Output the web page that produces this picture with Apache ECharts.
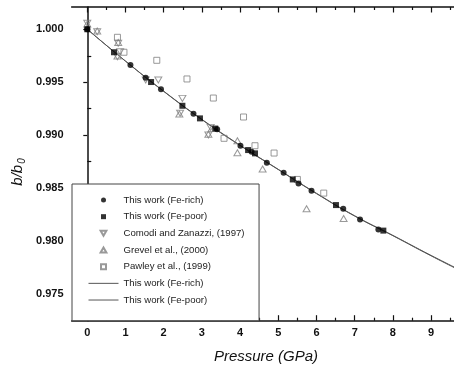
<!DOCTYPE html>
<html>
<head>
<meta charset="utf-8">
<script src="https://cdn.jsdelivr.net/npm/echarts@6/dist/echarts.min.js"></script>
<style>
  html, body { margin: 0; padding: 0; background: #fff; }
  #chart { width: 454px; height: 369px; }
</style>
</head>
<body>
<div id="chart"></div>
<script>
// Relative b-axis compression b/b0 versus pressure (GPa)

// This work, Fe-rich crystal: [pressure, b/b0]
const feRich = [
  [0.00, 1.00000], [1.13, 0.99663], [1.53, 0.99543], [1.93, 0.99433],
  [2.78, 0.99203], [3.40, 0.99056], [4.01, 0.98901], [4.30, 0.98844],
  [4.70, 0.98740], [5.14, 0.98646], [5.53, 0.98545], [5.87, 0.98476],
  [6.70, 0.98306], [7.14, 0.98205], [7.62, 0.98111]
];

// This work, Fe-poor crystal
const fePoor = [
  [0.00, 1.00000], [0.70, 0.99783], [1.67, 0.99502], [2.49, 0.99278],
  [2.95, 0.99159], [3.35, 0.99063], [4.21, 0.98860], [4.39, 0.98829],
  [5.38, 0.98583], [6.51, 0.98341], [7.75, 0.98100]
];

// Comodi and Zanazzi (1997)
const comodi = [
  [0.00, 1.00057], [0.26, 0.99977], [0.81, 0.99868], [0.79, 0.99741],
  [0.86, 0.99788], [1.53, 0.99521], [1.86, 0.99521], [2.49, 0.99348],
  [2.43, 0.99207], [3.23, 0.99074], [3.17, 0.99002]
];

// Grevel et al. (2000)
const grevel = [
  [0.00, 1.00050], [0.26, 0.99984], [0.81, 0.99875], [0.79, 0.99748],
  [2.41, 0.99200], [3.17, 0.99010], [3.26, 0.99065], [3.93, 0.98948],
  [3.93, 0.98834], [4.59, 0.98681], [5.74, 0.98307], [6.71, 0.98215]
];

// Pawley et al. (1999)
const pawley = [
  [0.79, 0.99924], [0.96, 0.99783], [1.82, 0.99707], [2.61, 0.99531],
  [3.30, 0.99351], [3.58, 0.98971], [4.09, 0.99172], [4.39, 0.98901],
  [4.89, 0.98832], [5.50, 0.98583], [6.19, 0.98454]
];

// Fitted equation-of-state curves
const fitRich = [
  [0, 1.00000], [1, 0.99699], [2, 0.99414], [3, 0.99147], [4, 0.98903],
  [5, 0.98676], [6, 0.98449], [7, 0.98237], [8, 0.98052], [9, 0.97862], [10, 0.97680]
];
const fitPoor = [
  [0, 1.00000], [1, 0.99700], [2, 0.99416], [3, 0.99150], [4, 0.98906],
  [5, 0.98678], [6, 0.98452], [7, 0.98240], [8, 0.98055], [9, 0.97866], [10, 0.97685]
];

// Axis ticks
const xMajor = [0, 1, 2, 3, 4, 5, 6, 7, 8, 9];
const xMinor = [0.5, 1.5, 2.5, 3.5, 4.5, 5.5, 6.5, 7.5, 8.5, 9.5];
const yMajor = [0.975, 0.980, 0.985, 0.990, 0.995, 1.000];
const yMinor = [0.9775, 0.9825, 0.9875, 0.9925, 0.9975];

const X_MIN = -0.41, X_MAX = 10;
const Y_MIN = 0.9725, Y_MAX = 1.0021;

const FONT = '"Liberation Sans", Arial, sans-serif';
const AXIS_COLOR = '#111';
const OPEN_COLOR = '#808080';
const FIT_COLOR = '#555';

function xAxisDef(position, ticks, len, withLabels, showLine) {
  return {
    type: 'value', position: position, min: X_MIN, max: X_MAX,
    axisLine: { show: showLine, lineStyle: { color: AXIS_COLOR, width: 1.5 } },
    axisTick: { show: true, inside: true, length: len, customValues: ticks,
                lineStyle: { color: AXIS_COLOR, width: 1.2 } },
    axisLabel: withLabels ? {
      show: true, customValues: ticks, margin: 7,
      fontFamily: FONT, fontWeight: 'bold', fontSize: 11, color: AXIS_COLOR,
      formatter: v => String(Math.round(v))
    } : { show: false },
    splitLine: { show: false }
  };
}

function yAxisDef(ticks, len, inside, withLabels, showLine) {
  return {
    type: 'value', position: 'left', min: Y_MIN, max: Y_MAX,
    axisLine: { show: showLine, lineStyle: { color: AXIS_COLOR, width: 1.5 } },
    axisTick: { show: true, inside: inside, length: len, customValues: ticks,
                lineStyle: { color: AXIS_COLOR, width: 1.2 } },
    axisLabel: withLabels ? {
      show: true, customValues: ticks, margin: 8,
      fontFamily: FONT, fontWeight: 'bold', fontSize: 11, color: AXIS_COLOR,
      formatter: v => v.toFixed(3)
    } : { show: false },
    splitLine: { show: false }
  };
}

// Symbol shapes (paths keep their aspect ratio inside legend icons)
const downTriangle = 'path://M0,0L10,0L5,8.66Z';
const upTriangle = 'path://M5,0L10,8.66L0,8.66Z';
const square = 'path://M0,0H10V10H0Z';
const lineIcon = 'path://M0,0H30V1H0Z';

const chart = echarts.init(document.getElementById('chart'), null, { renderer: 'canvas' });

chart.setOption({
  animation: false,
  backgroundColor: '#fff',
  grid: { left: 71.6, top: 7, width: 397.7, height: 313.7, outerBoundsMode: 'none', containLabel: false },
  xAxis: [
    xAxisDef('bottom', xMajor, 5.5, true, true),
    xAxisDef('bottom', xMinor, 3, false, false),
    xAxisDef('top', xMajor, 5.5, false, true),
    xAxisDef('top', xMinor, 3, false, false)
  ],
  yAxis: [
    yAxisDef(yMajor, 4, false, true, true),
    yAxisDef(yMinor, 4, true, false, false)
  ],
  legend: {
    orient: 'vertical', left: 72, top: 184,
    padding: [10, 14.5, 14.7, 16.5],
    borderColor: '#444', borderWidth: 1, backgroundColor: '#fff',
    itemWidth: 30, itemHeight: 5, itemGap: 4.67,
    textStyle: { fontFamily: FONT, fontSize: 9.6, color: '#222', lineHeight: 12 },
    data: [
      'This work (Fe-rich)', 'This work (Fe-poor)', 'Comodi and Zanazzi, (1997)',
      'Grevel et al., (2000)', 'Pawley et al., (1999)',
      { name: 'This work (Fe-rich) ', icon: lineIcon, itemStyle: { color: FIT_COLOR } },
      { name: 'This work (Fe-poor) ', icon: lineIcon, itemStyle: { color: FIT_COLOR } }
    ]
  },
  graphic: [
    {
      type: 'text', x: 266, y: 356.5,
      style: { text: 'Pressure (GPa)', fontFamily: FONT, fontStyle: 'italic',
               fontSize: 15, fill: '#111', align: 'center', verticalAlign: 'middle' }
    },
    {
      type: 'text', x: 18, y: 172, rotation: Math.PI / 2,
      style: {
        text: '{i|b/b}{s|0}',
        align: 'center', verticalAlign: 'middle', fill: '#111',
        rich: {
          i: { fontFamily: FONT, fontStyle: 'italic', fontSize: 15, fill: '#111',
               lineHeight: 18, verticalAlign: 'middle' },
          s: { fontFamily: FONT, fontStyle: 'italic', fontSize: 10, fill: '#111',
               lineHeight: 18, verticalAlign: 'bottom', padding: [0, 0, 0, 1] }
        }
      }
    }
  ],
  series: [
    {
      name: 'This work (Fe-rich) ', type: 'line', data: fitRich, smooth: true,
      symbol: 'none', z: 2,
      lineStyle: { color: FIT_COLOR, width: 1 }, itemStyle: { color: FIT_COLOR }
    },
    {
      name: 'This work (Fe-poor) ', type: 'line', data: fitPoor, smooth: true,
      symbol: 'none', z: 2,
      lineStyle: { color: FIT_COLOR, width: 1 }, itemStyle: { color: FIT_COLOR }
    },
    {
      name: 'Comodi and Zanazzi, (1997)', type: 'scatter', data: comodi,
      symbol: downTriangle, symbolSize: [7, 6], z: 3,
      itemStyle: { color: 'rgba(0,0,0,0)', borderColor: OPEN_COLOR, borderWidth: 1 }
    },
    {
      name: 'Grevel et al., (2000)', type: 'scatter', data: grevel,
      symbol: upTriangle, symbolSize: [7, 6], z: 3,
      itemStyle: { color: 'rgba(0,0,0,0)', borderColor: OPEN_COLOR, borderWidth: 1 }
    },
    {
      name: 'Pawley et al., (1999)', type: 'scatter', data: pawley,
      symbol: square, symbolSize: 6, z: 3,
      itemStyle: { color: 'rgba(0,0,0,0)', borderColor: OPEN_COLOR, borderWidth: 1 }
    },
    {
      name: 'This work (Fe-rich)', type: 'scatter', data: feRich,
      symbol: 'circle', symbolSize: 6, z: 4,
      itemStyle: { color: '#000' }
    },
    {
      name: 'This work (Fe-poor)', type: 'scatter', data: fePoor,
      symbol: square, symbolSize: 6, z: 4,
      itemStyle: { color: '#000' }
    }
  ]
});
</script>
</body>
</html>
